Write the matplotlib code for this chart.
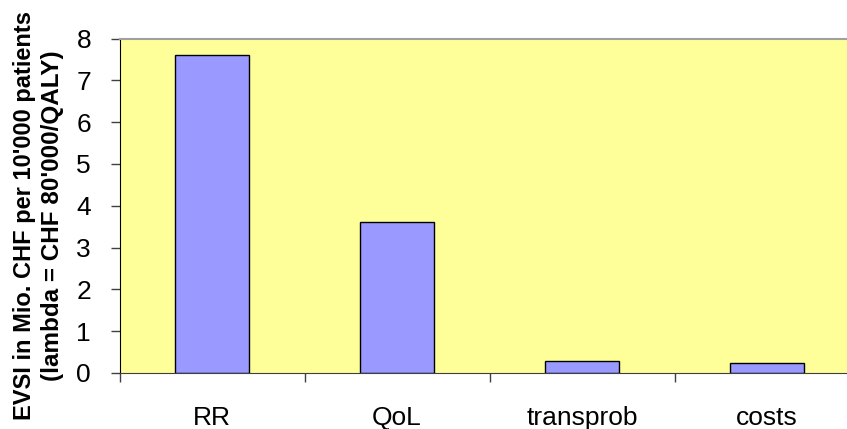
import matplotlib
matplotlib.use("Agg")
import matplotlib.pyplot as plt

plt.rcParams['font.family'] = ['Liberation Sans', 'DejaVu Sans']

categories = ["RR", "QoL", "transprob", "costs"]
evsi = [7.6, 3.62, 0.29, 0.23]
yticks = [0, 1, 2, 3, 4, 5, 6, 7, 8]

W, H = 847, 429
fig = plt.figure(figsize=(W / 100, H / 100), dpi=100)
left, right, top, bottom = 119.5, 859.5, 38.5, 373
ax = fig.add_axes([left / W, 1 - bottom / H, (right - left) / W, (bottom - top) / H])
ax.set_facecolor("#FFFF99")

x = range(len(categories))
ax.bar(x, evsi, width=0.405, color="#9999FF", edgecolor="black", linewidth=1.0, zorder=2)

ax.set_xlim(-0.5, len(categories) - 0.5)
ax.set_ylim(0, 8)
ax.set_yticks(yticks)
ax.set_yticklabels([str(t) for t in yticks], fontsize=19)

# category labels between tick marks at the boundaries
ax.set_xticks([i - 0.5 for i in range(len(categories))])
ax.set_xticklabels([])
ax.set_xticks(list(x), minor=True)
ax.set_xticklabels(categories, minor=True, fontsize=19)
ax.tick_params(axis="x", which="minor", length=0, pad=23.5)
ax.tick_params(axis="x", which="major", length=6.5, width=1, color="#404040", direction="out")
ax.tick_params(axis="y", length=6.5, width=1, color="#404040", direction="out", pad=14)

ax.spines["right"].set_visible(False)
ax.spines["top"].set_color("#A0A0A0")
ax.spines["top"].set_linewidth(1.5)
ax.spines["left"].set_color("black")
ax.spines["bottom"].set_color("#404040")

fig.text(25 / W, 1 - 216 / H, "EVSI in Mio. CHF per 10'000 patients",
         rotation=90, fontsize=17, fontweight="bold", ha="center", va="center")
fig.text(53 / W, 1 - 216 / H, "(lambda = CHF 80'000/QALY)",
         rotation=90, fontsize=17.5, fontweight="bold", ha="center", va="center")

fig.savefig("out.png", dpi=100)
